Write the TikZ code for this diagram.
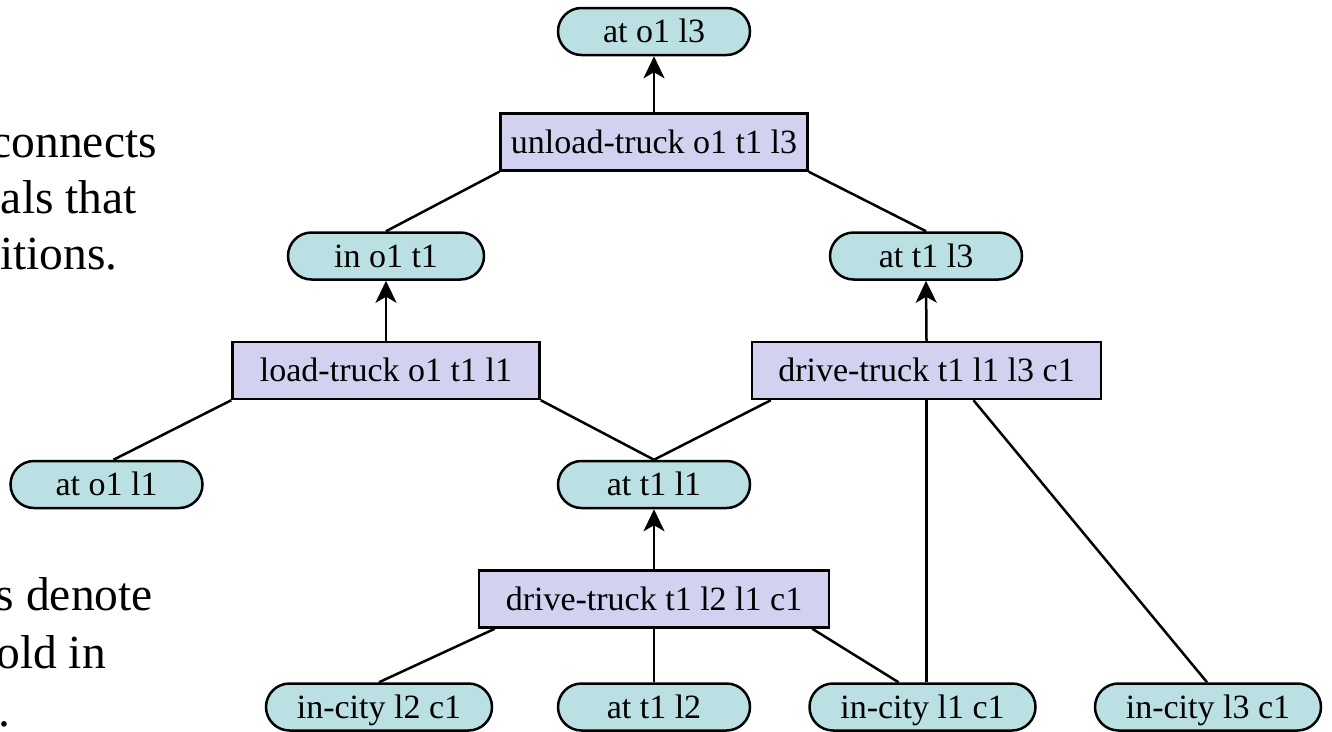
\documentclass[tikz,border=0pt]{standalone}
\usepackage{fontspec}
\setmainfont{Liberation Serif}
\usetikzlibrary{shapes.misc,arrows.meta,calc}
\definecolor{factfill}{HTML}{BBE0E3}
\definecolor{actfill}{HTML}{D2D2F0}
\tikzset{
  fact/.style={rounded rectangle, draw, line width=2.5pt, fill=factfill,
    minimum height=47pt, minimum width=192pt, inner sep=0pt,
    text height=22pt, text depth=0pt, font=\fontsize{34}{40}\selectfont},
  wfact/.style={fact, minimum width=226pt},
  act/.style={rectangle, draw, line width=2.5pt, fill=actfill,
    minimum height=57pt, inner xsep=8pt, inner ysep=0pt,
    text height=22pt, text depth=0pt, font=\fontsize{34}{40}\selectfont},
  conn/.style={line width=2.5pt},
  arr/.style={conn, -{Stealth[length=22pt, width=21pt, inset=6pt]}},
  side/.style={anchor=base east, inner sep=0pt, font=\fontsize{47.5}{56}\selectfont}
}
\begin{document}
\begin{tikzpicture}[x=1pt, y=-1pt]
\useasboundingbox (0,0) rectangle (1332,731);
% side text (cut at left edge, as in the reference)
\node[side] (s1) at (157,157) {connects};
\node[side] (s2) at (137,213) {als that};
\node[side] (s3) at (118,269) {itions.};
\node[side] (s4) at (153,610) {s denote};
\node[side] (s5) at (106,668) {old in};
\node[side] (s6) at (11,726) {.};
% nodes
\node[fact] (goal) at (654,31.5) {at o1 l3};
\node[act, minimum width=307pt] (unload) at (654,142) {unload-truck o1 t1 l3};
\node[fact, minimum width=196pt] (ino1t1) at (386,256) {in o1 t1};
\node[fact] (att1l3) at (926,256) {at t1 l3};
\node[act, minimum width=307pt] (load) at (386,370.5) {load-truck o1 t1 l1};
\node[act, minimum width=349pt] (drive1) at (926.5,370.5) {drive-truck t1 l1 l3 c1};
\node[fact] (ato1l1) at (106.5,484.5) {at o1 l1};
\node[fact] (att1l1) at (654,484.5) {at t1 l1};
\node[act, minimum width=350pt] (drive2) at (654,599) {drive-truck t1 l2 l1 c1};
\node[wfact] (incl2) at (379,707) {in-city l2 c1};
\node[fact] (att1l2) at (654,707) {at t1 l2};
\node[wfact] (incl1) at (922.5,707) {in-city l1 c1};
\node[wfact] (incl3) at (1208,707) {in-city l3 c1};
% connectors
\draw[arr] (unload.north) -- (goal.south);
\draw[conn] (unload.south west) -- (ino1t1.north);
\draw[conn] (unload.south east) -- (att1l3.north);
\draw[arr] (load.north) -- (ino1t1.south);
\draw[arr] (drive1.north) -- (att1l3.south);
\draw[conn] (load.south west) -- ([xshift=7pt]ato1l1.north);
\draw[conn] (load.south east) -- (att1l1.north);
\draw[conn] ([xshift=20pt]drive1.south west) -- (att1l1.north);
\draw[arr] (drive2.north) -- (att1l1.south);
\draw[conn] ([xshift=17pt]drive2.south west) -- (incl2.north);
\draw[conn] (drive2.south) -- (att1l2.north);
\draw[conn] ([xshift=-18pt]drive2.south east) -- ([xshift=-24pt]incl1.north);
\draw[conn] (drive1.south) -- (drive1.south |- incl1.north);
\draw[conn] ([xshift=47pt]drive1.south) -- ([xshift=-1pt]incl3.north);
\end{tikzpicture}
\end{document}
